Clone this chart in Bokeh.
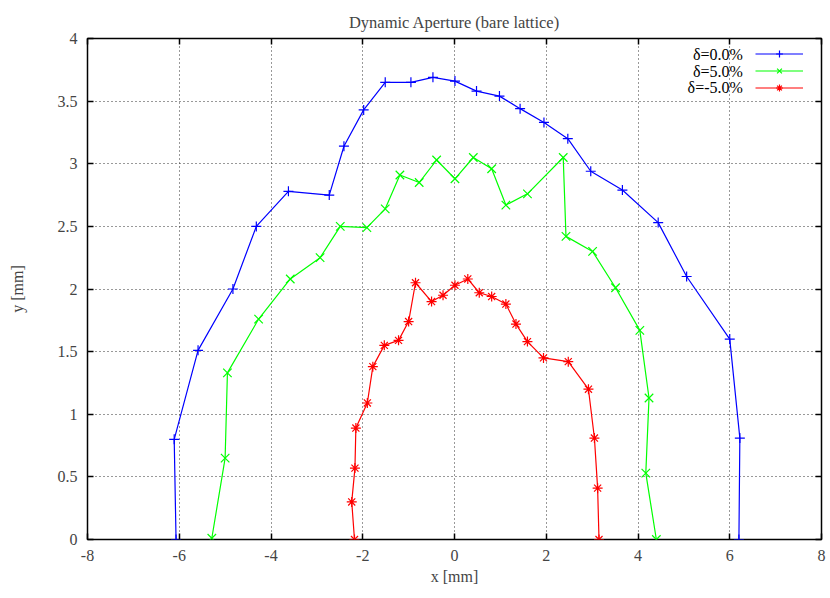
from bokeh.plotting import figure
from bokeh.models import (Range1d, FixedTicker, LinearAxis, Legend, LegendItem, Label)
from bokeh.core.properties import value
from bokeh.embed import file_html
from bokeh.resources import INLINE

# ---- data ----
blue_x = [-6.07, -6.11, -5.59, -4.83, -4.32, -3.62, -2.73, -2.41, -1.98, -1.51, -0.95, -0.47,
          0.01, 0.48, 0.98, 1.43, 1.95, 2.47, 2.97, 3.66, 4.44, 5.06, 6.00, 6.22, 6.20]
blue_y = [0.0, 0.80, 1.51, 2.00, 2.50, 2.78, 2.75, 3.14, 3.43, 3.65, 3.65, 3.69,
          3.66, 3.58, 3.54, 3.44, 3.33, 3.20, 2.94, 2.79, 2.53, 2.10, 1.60, 0.81, 0.0]

green_x = [-5.29, -5.00, -4.95, -4.27, -3.58, -2.93, -2.49, -1.91, -1.51, -1.19, -0.77, -0.39,
           0.01, 0.41, 0.81, 1.12, 1.59, 2.37, 2.43, 3.01, 3.51, 4.04, 4.24, 4.17, 4.40]
green_y = [0.01, 0.65, 1.33, 1.76, 2.08, 2.25, 2.50, 2.49, 2.64, 2.91, 2.85, 3.03,
           2.88, 3.05, 2.96, 2.67, 2.76, 3.05, 2.42, 2.30, 2.01, 1.67, 1.13, 0.53, 0.0]

red_x = [-2.18, -2.24, -2.17, -2.15, -1.90, -1.78, -1.53, -1.22, -1.00, -0.85, -0.50, -0.25,
         0.01, 0.29, 0.54, 0.81, 1.12, 1.34, 1.59, 1.94, 2.48, 2.92, 3.05, 3.12, 3.15]
red_y = [0.0, 0.30, 0.57, 0.89, 1.09, 1.38, 1.55, 1.59, 1.74, 2.05, 1.90, 1.95,
         2.03, 2.08, 1.97, 1.94, 1.88, 1.72, 1.58, 1.45, 1.42, 1.20, 0.81, 0.41, 0.0]

title_text = "Dynamic Aperture (bare lattice)"
series_labels = ["δ=0.0%", "δ=5.0%", "δ=-5.0%"]
x_ticks = [-8, -6, -4, -2, 0, 2, 4, 6, 8]
x_tick_labels = ["-8", "-6", "-4", "-2", "0", "2", "4", "6", "8"]
y_ticks = [0, 0.5, 1, 1.5, 2, 2.5, 3, 3.5, 4]
y_tick_labels = ["0", "0.5", "1", "1.5", "2", "2.5", "3", "3.5", "4"]

FONT = "Liberation Serif"
FS = "16px"

p = figure(width=830, height=598, output_backend="svg", toolbar_location=None,
           x_range=Range1d(-8, 8), y_range=Range1d(0, 4),
           min_border_left=87, min_border_right=9, min_border_top=38, min_border_bottom=59,
           x_axis_label="x [mm]", y_axis_label="y [mm]")
p.title.text = title_text
p.title.text_font = FONT
p.title.text_font_style = "normal"
p.title.text_font_size = "16.5px"
p.title.align = "center"
p.title.vertical_align = "top"
p.title.standoff = 10
p.background_fill_color = "white"
p.border_fill_color = "white"
p.outline_line_color = "black"
p.outline_line_width = 1.5

for ax, ticks, labels in ((p.xaxis[0], x_ticks, x_tick_labels), (p.yaxis[0], y_ticks, y_tick_labels)):
    ax.ticker = FixedTicker(ticks=ticks)
    ax.major_label_overrides = {t: l for t, l in zip(ticks, labels)}
    ax.major_tick_in = 6
    ax.major_tick_out = 0
    ax.major_tick_line_width = 1.5
    ax.minor_tick_line_color = None
    ax.axis_line_color = None
    ax.major_label_text_font = FONT
    ax.major_label_text_font_size = FS
    ax.axis_label_text_font = FONT
    ax.axis_label_text_font_style = "normal"
    ax.axis_label_text_font_size = FS

p.xaxis[0].major_label_standoff = 10
p.xaxis[0].axis_label_standoff = 4
p.yaxis[0].major_label_standoff = 10
p.yaxis[0].axis_label_standoff = 29

# mirrored ticks on top and right
top = LinearAxis(ticker=FixedTicker(ticks=x_ticks), major_label_overrides={t: "" for t in x_ticks},
                 major_tick_in=6, major_tick_out=0, major_tick_line_width=1.5,
                 minor_tick_line_color=None, axis_line_color=None, major_label_standoff=0)
right = LinearAxis(ticker=FixedTicker(ticks=y_ticks), major_label_overrides={t: "" for t in y_ticks},
                   major_tick_in=6, major_tick_out=0, major_tick_line_width=1.5,
                   minor_tick_line_color=None, axis_line_color=None, major_label_standoff=0)
p.add_layout(top, "above")
p.add_layout(right, "right")

p.xgrid.ticker = FixedTicker(ticks=x_ticks)
p.ygrid.ticker = FixedTicker(ticks=y_ticks)
for g in (p.xgrid[0], p.ygrid[0]):
    g.grid_line_color = "#333333"
    g.grid_line_dash = "1 3"
    g.grid_line_width = 1

colors = ["#0000ff", "#00ff00", "#ff0000"]
markers = ["cross", "x", "asterisk"]
sizes = [10, 12, 10]
items = []
for xs, ys, c, m, sz, lab in zip((blue_x, green_x, red_x), (blue_y, green_y, red_y), colors, markers, sizes, series_labels):
    l = p.line(xs, ys, line_color=c, line_width=1.2)
    s = p.scatter(xs, ys, marker=m, size=sz, line_color=c, line_width=1.2)
    items.append(LegendItem(label=value(""), renderers=[l, s]))

legend = Legend(items=items, location=(668, 443), glyph_width=48, glyph_height=17,
                label_height=17, label_width=0, label_standoff=0, spacing=0, padding=0,
                margin=0, border_line_color=None, background_fill_alpha=0)
p.add_layout(legend)

row_y = [3.876, 3.74, 3.606]
for lab, yy in zip(series_labels, row_y):
    p.add_layout(Label(x=6.285, y=yy, text=lab, text_align="right", text_baseline="middle",
                       text_font=FONT, text_font_size=FS, text_color="black"))

open("out.html", "w").write(file_html(p, INLINE))
